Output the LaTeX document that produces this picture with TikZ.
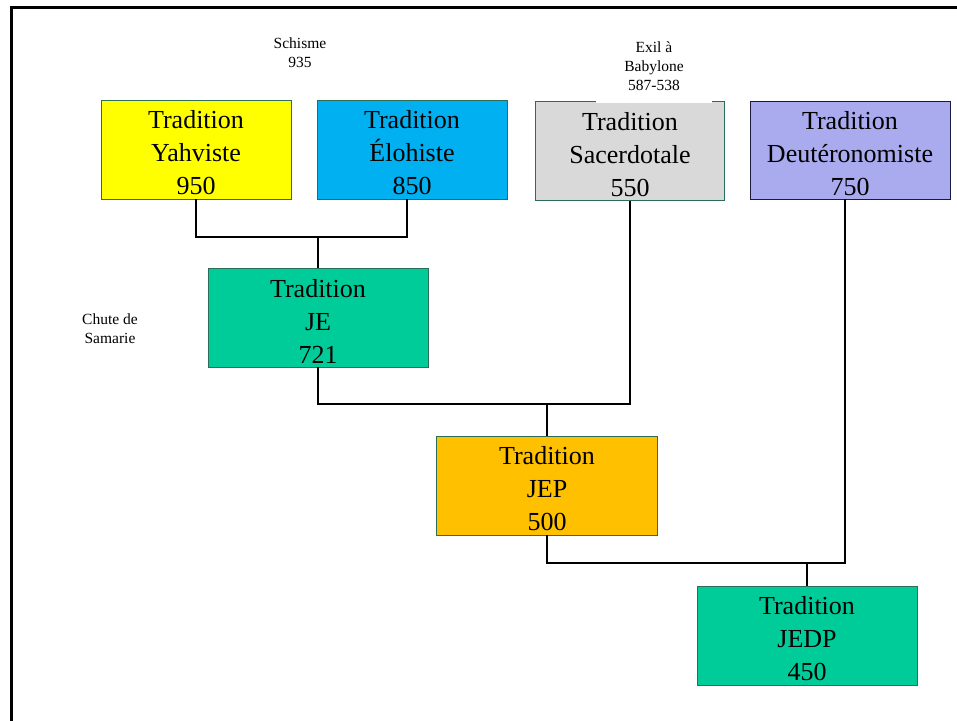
\documentclass[tikz,border=0pt]{standalone}
\usepackage{fontspec}
\setmainfont{Liberation Serif}
\definecolor{cYah}{HTML}{FFFF00}
\definecolor{cElo}{HTML}{00B0F0}
\definecolor{cSac}{HTML}{D9D9D9}
\definecolor{cDeu}{HTML}{AAAAEE}
\definecolor{cGrn}{HTML}{00CC99}
\definecolor{cOra}{HTML}{FFC000}
\definecolor{bdr}{HTML}{2B6E58}
\definecolor{bdrD}{HTML}{1A1A40}
\tikzset{
  tbox/.style={draw=bdr, line width=0.9pt, inner sep=0pt},
  ttext/.style={align=center, inner sep=0pt, yshift=-3.5pt,
    font=\fontsize{26}{33}\selectfont},
  conn/.style={line width=1.7pt, black},
  lbl/.style={align=center, inner sep=0pt, font=\fontsize{15.5}{19}\selectfont}
}
\begin{document}
\begin{tikzpicture}[x=1pt,y=-1pt]
\useasboundingbox (0,0) rectangle (957,720);
% frame
\draw[line width=2.5pt] (11.5,722) -- (11.5,7.5) -- (960,7.5);
% boxes
\node[tbox, fill=cYah, minimum width=190pt, minimum height=99pt,
  label={[ttext]center:Tradition\\Yahviste\\950}] (Y) at (196,149.5) {};
\node[tbox, fill=cElo, minimum width=190pt, minimum height=99pt,
  label={[ttext]center:Tradition\\Élohiste\\850}] (E) at (412,149.5) {};
\node[tbox, fill=cSac, minimum width=189pt, minimum height=99pt,
  label={[ttext]center:Tradition\\Sacerdotale\\550}] (S) at (630,151) {};
\node[tbox, fill=cDeu, draw=bdrD, minimum width=200pt, minimum height=98pt,
  label={[ttext]center:Tradition\\Deutéronomiste\\750}] (D) at (850,150) {};
\node[tbox, fill=cGrn, minimum width=220pt, minimum height=99pt,
  label={[ttext]center:Tradition\\JE\\721}] (JE) at (318,317.5) {};
\node[tbox, fill=cOra, minimum width=221pt, minimum height=99pt,
  label={[ttext]center:Tradition\\JEP\\500}] (JEP) at (547,485.5) {};
\node[tbox, fill=cGrn, minimum width=220pt, minimum height=99pt,
  label={[ttext]center:Tradition\\JEDP\\450}] (JEDP) at (807,635.5) {};
% connectors
\coordinate (j1) at (318,237);
\coordinate (j2) at (547,404);
\coordinate (j3) at (807,563);
\draw[conn] (Y.south) |- (j1) -| ([xshift=-5pt]E.south);
\draw[conn] (j1) -- (JE.north);
\draw[conn] (JE.south) |- (j2) -| (S.south);
\draw[conn] (j2) -- (JEP.north);
\draw[conn] (JEP.south) |- (j3) -| ([xshift=-5pt]D.south);
\draw[conn] (j3) -- (JEDP.north);
% labels
\node[lbl] (schisme) at (300,53) {Schisme\\935};
\node[lbl, fill=white, minimum width=116pt, minimum height=74pt] (exil) at (654,66) {Exil à\\Babylone\\587-538};
\node[lbl] (chute) at (110,329) {Chute de\\Samarie};
\end{tikzpicture}
\end{document}
